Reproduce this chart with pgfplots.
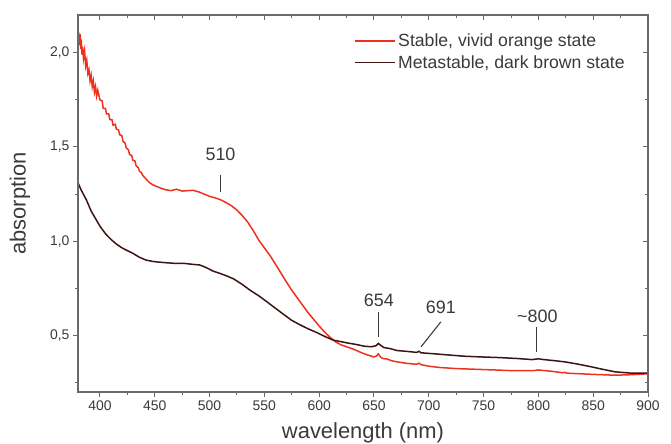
\documentclass[border=0pt]{standalone}
\usepackage{fontspec}
\setmainfont{Liberation Sans}
\usepackage{pgfplots}
\pgfplotsset{compat=1.18}
\definecolor{redc}{HTML}{F0301E}
\definecolor{brownc}{HTML}{3C1414}
\definecolor{axgray}{HTML}{6A6A6A}
\definecolor{txtgray}{HTML}{3A3A3A}
\begin{document}
\begin{tikzpicture}
\pgfplotsset{
  common/.style={
    scale only axis, width=570bp, height=377bp,
    xmin=380, xmax=900, ymin=0.2, ymax=2.2,
    xtick={400,450,...,900},
    minor xtick={425,475,...,875},
    ytick={0.5,1.0,1.5,2.0},
    minor ytick={0.25,0.75,1.25,1.75},
    major tick length=5bp, minor tick length=3bp,
    axis line style={axgray, line width=1.2bp},
    every tick/.style={axgray, line width=1bp},
    every minor tick/.style={axgray, line width=0.9bp},
  }
}
\begin{axis}[common, name=main,
  tick align=outside, xtick pos=left, ytick pos=left,
  /pgf/number format/assume math mode=true,
  /pgf/number format/.cd, use comma, fixed, fixed zerofill, precision=1, 1000 sep={},
  /pgfplots/.cd,
  xticklabel={\pgfmathprintnumber[fixed,precision=0]{\tick}},
  tick label style={font=\fontsize{14}{16}\selectfont, text=txtgray},
  xlabel={wavelength (nm)}, ylabel={absorption},
  label style={font=\fontsize{22}{24}\selectfont, text=txtgray},
  xlabel style={yshift=-5bp},
  ylabel style={yshift=13bp},
  legend style={at={(rel axis cs:0.485,0.955)}, anchor=north west, draw=none, fill=none,
    font=\fontsize{17.7}{20}\selectfont, row sep=3bp,
    inner xsep=0bp, inner ysep=0bp},
  legend cell align=left,
  legend image code/.code={\draw[#1] (0bp,0bp) -- (40bp,0bp);},
]
\addlegendimage{redc, line width=1.6bp}
\addlegendentry{\textcolor{txtgray}{Stable, vivid orange state}}
\addlegendimage{brownc, line width=1.5bp}
\addlegendentry{\textcolor{txtgray}{Metastable, dark brown state}}
\addplot[redc, line width=1.5bp, forget plot] coordinates {
(380,2.08)(380.6,2.11)(381.2,2.04)(381.8,2.10)(382.4,2.02)(383,2.07)(383.6,1.99)(384.2,2.03)
(385,1.97)(386,2.01)(387,1.93)(388,1.96)(389,1.89)(390,1.91)(391,1.85)(392,1.88)(393,1.82)
(394,1.85)(395,1.79)(396,1.82)(397,1.77)(398,1.80)(400,1.75)(402,1.745)(403,1.705)(405,1.705)
(406,1.675)(408,1.675)(409,1.645)(411,1.645)(412,1.615)(414,1.62)(415,1.595)(417,1.59)(418,1.565)
(420,1.56)(421,1.53)(423,1.52)(424,1.495)(426,1.485)(427,1.46)(429,1.455)(430,1.43)
(432,1.425)(433,1.40)(435,1.39)(436,1.372)(438,1.362)(439,1.35)(442,1.33)(445,1.312)
(448,1.30)(452,1.29)(456,1.28)(460,1.273)(465,1.268)(470,1.276)(475,1.266)(480,1.268)
(485,1.270)(490,1.262)(495,1.250)(500,1.238)(505,1.230)(510,1.220)(515,1.205)(520,1.188)
(525,1.165)(530,1.135)(535,1.100)(540,1.055)(545,1.005)(550,0.965)(555,0.925)(560,0.880)
(565,0.832)(570,0.785)(575,0.740)(580,0.700)(585,0.660)(590,0.620)(595,0.585)(600,0.550)
(605,0.518)(610,0.490)(615,0.466)(620,0.450)(625,0.440)(630,0.430)(635,0.418)(640,0.405)
(645,0.395)(650,0.386)(652,0.390)(654,0.402)(656,0.386)(658,0.378)(662,0.375)(666,0.366)
(671,0.360)(680,0.352)(689,0.347)(691,0.353)(693,0.345)(700,0.337)(710,0.330)(726,0.324)
(750,0.319)(778,0.313)(795,0.313)(800,0.317)(805,0.314)(815,0.308)(822,0.302)(824,0.304)
(826,0.300)(848,0.294)(870,0.289)(885,0.292)(895,0.295)(900,0.297)
};
\addplot[brownc, line width=1.5bp, forget plot] coordinates {
(380,1.31)(383,1.27)(387.6,1.22)(392,1.16)(396,1.12)(400,1.08)(405,1.04)(410,1.01)
(415,0.985)(420,0.965)(425,0.950)(430,0.936)(436,0.915)(442,0.900)(448,0.893)(452,0.890)
(460,0.886)(467,0.883)(476,0.883)(485,0.877)(491,0.874)(497,0.860)(503,0.842)(510,0.828)
(516,0.815)(522,0.800)(530,0.770)(537,0.740)(545,0.710)(552,0.680)(560,0.645)(568,0.610)
(575,0.580)(583,0.555)(590,0.535)(598,0.515)(605,0.495)(613,0.475)(620,0.467)(626,0.460)
(634,0.452)(641,0.443)(648,0.440)(652,0.446)(654,0.458)(656,0.448)(659,0.436)(665,0.430)
(671,0.420)(681,0.415)(689,0.410)(691,0.416)(693,0.408)(702,0.404)(717,0.397)(732,0.390)
(748,0.386)(763,0.383)(780,0.378)(794,0.372)(800,0.376)(805,0.372)(815,0.366)(824,0.360)
(836,0.348)(848,0.334)(859,0.320)(870,0.307)(885,0.300)(900,0.300)
};
% annotations
\draw[txtgray, line width=1.1bp] (axis cs:510,1.353) -- (axis cs:510,1.262);
\node[txtgray, font=\fontsize{18}{20}\selectfont] at (axis cs:510,1.46) {510};
\draw[txtgray, line width=1.1bp] (axis cs:654.5,0.625) -- (axis cs:654.5,0.493);
\node[txtgray, font=\fontsize{18}{20}\selectfont] at (axis cs:654.5,0.688) {654};
\draw[txtgray, line width=1.1bp] (axis cs:711,0.572) -- (axis cs:693,0.44);
\node[txtgray, font=\fontsize{18}{20}\selectfont] at (axis cs:711,0.65) {691};
\draw[txtgray, line width=1.1bp] (axis cs:798.5,0.546) -- (axis cs:798.5,0.414);
\node[txtgray, font=\fontsize{18}{20}\selectfont] at (axis cs:799,0.60) {\char`~800};
\end{axis}
\begin{axis}[common,
  tick align=inside, xtick pos=right, ytick pos=right,
  xticklabels={}, yticklabels={},
]
\end{axis}
\pgfresetboundingbox
\path ([shift={(-78bp,-51bp)}]main.south west) rectangle ([shift={(23bp,15bp)}]main.north east);
\end{tikzpicture}
\end{document}
